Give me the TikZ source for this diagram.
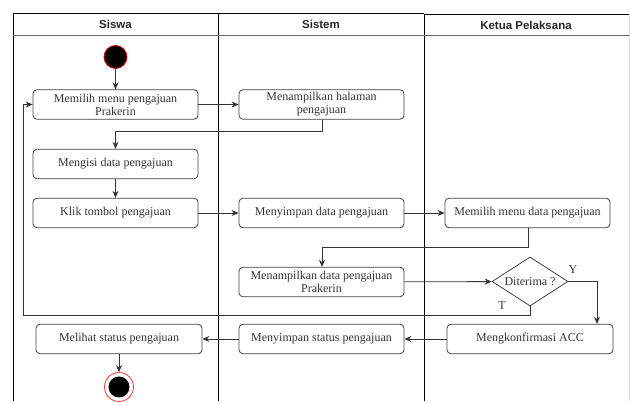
\documentclass[tikz,border=0pt]{standalone}
\usepackage{fontspec}
\setmainfont{Liberation Serif}
\newfontfamily\hdrfont{Liberation Sans}
\usetikzlibrary{arrows.meta,shapes.geometric}
\tikzset{
  act/.style={draw=black!75, line width=0.8pt, rounded corners=4pt, minimum width=165pt, minimum height=29.5pt, inner sep=1pt, align=center, text=black!80, font=\fontsize{12}{13}\selectfont},
  lane/.style={draw=black, line width=0.8pt},
  hdr/.style={font=\hdrfont\bfseries\fontsize{11.5}{13}\selectfont, text=black!85},
  conn/.style={draw=black!80, line width=0.8pt, -{Stealth[length=7pt,width=6pt]}},
  lbl/.style={font=\fontsize{12}{13}\selectfont, text=black!80}
}
\begin{document}
\begin{tikzpicture}[x=1pt,y=-1pt]
\useasboundingbox (0,0) rectangle (630,403);
% lanes
\draw[lane] (13,401) -- (13,13) -- (424,13);
\draw[lane] (424,14) -- (630,14);
\draw[lane] (218,13) -- (218,401);
\draw[lane] (424,14) -- (424,401);
\draw[draw=black!60, line width=0.8pt] (13,35.5) -- (630,35.5);
\draw[draw=black!15, line width=0.8pt] (629,14) -- (629,401);
\node[hdr] (h1) at (115.5,24.5) {Siswa};
\node[hdr] (h2) at (321,24.5) {Sistem};
\node[hdr] (h3) at (526,25) {Ketua Pelaksana};
% start / end
\node[circle, fill=black, draw=red!85!black, line width=0.8pt, minimum size=23pt, inner sep=0pt] (start) at (115.5,57) {};
\node[circle, draw=red!80, line width=0.8pt, minimum size=29pt, inner sep=0pt] (endo) at (119,387) {};
\node[circle, fill=black, minimum size=21pt, inner sep=0pt] (endi) at (119,387) {};
% activities
\node[act] (a1) at (115.5,104.5) {Memilih menu pengajuan\\Prakerin};
\node[act] (b1) at (321.5,104.5) {Menampilkan halaman\\pengajuan};
\node[act] (a2) at (115.5,164) {Mengisi data pengajuan};
\node[act] (a3) at (115.5,213) {Klik tombol pengajuan};
\node[act] (b2) at (321.5,213) {Menyimpan data pengajuan};
\node[act] (c1) at (527.5,213) {Memilih menu data pengajuan};
\node[act] (b3) at (321.5,282) {Menampilkan data pengajuan\\Prakerin};
\node[diamond, draw=black!75, line width=0.8pt, minimum width=76pt, minimum height=49pt, inner sep=0pt, aspect=1.55, text=black!80, font=\fontsize{12}{13}\selectfont] (d) at (530,281.5) {Diterima ?};
\node[act, minimum width=166pt] (c2) at (530,339) {Mengkonfirmasi ACC};
\node[act] (b4) at (321.5,339) {Menyimpan status pengajuan};
\node[act, minimum width=166pt] (a4) at (119,339) {Melihat status pengajuan};
% connectors
\draw[conn] (start) -- (a1);
\draw[conn] (a1) -- (b1);
\coordinate (p1) at (322,131);
\coordinate (p2) at (115.5,131);
\draw[conn] (b1.south -| p1) -- (p1) -- (p2) -- (a2);
\draw[conn] (a2) -- (a3);
\draw[conn] (a3) -- (b2);
\draw[conn] (b2) -- (c1);
\coordinate (q1) at (528,247);
\coordinate (q2) at (322,247);
\draw[conn] (c1.south -| q1) -- (q1) -- (q2) -- (b3.north -| q2);
\draw[conn] (b3) -- (d);
\coordinate (y1) at (597,281.5);
\draw[conn] (d.east) -- (y1) -- (c2.north -| y1);
\node[lbl] (ly) at (573,270) {Y};
\coordinate (t1) at (530,315);
\coordinate (t2) at (23,315);
\coordinate (t3) at (23,104.5);
\draw[conn] (d.south) -- (t1) -- (t2) -- (t3) -- (a1.west);
\node[lbl] (lt) at (502,306) {T};
\draw[conn] (c2) -- (b4);
\draw[conn] (b4) -- (a4);
\draw[conn] (a4) -- (endo);
\end{tikzpicture}
\end{document}
